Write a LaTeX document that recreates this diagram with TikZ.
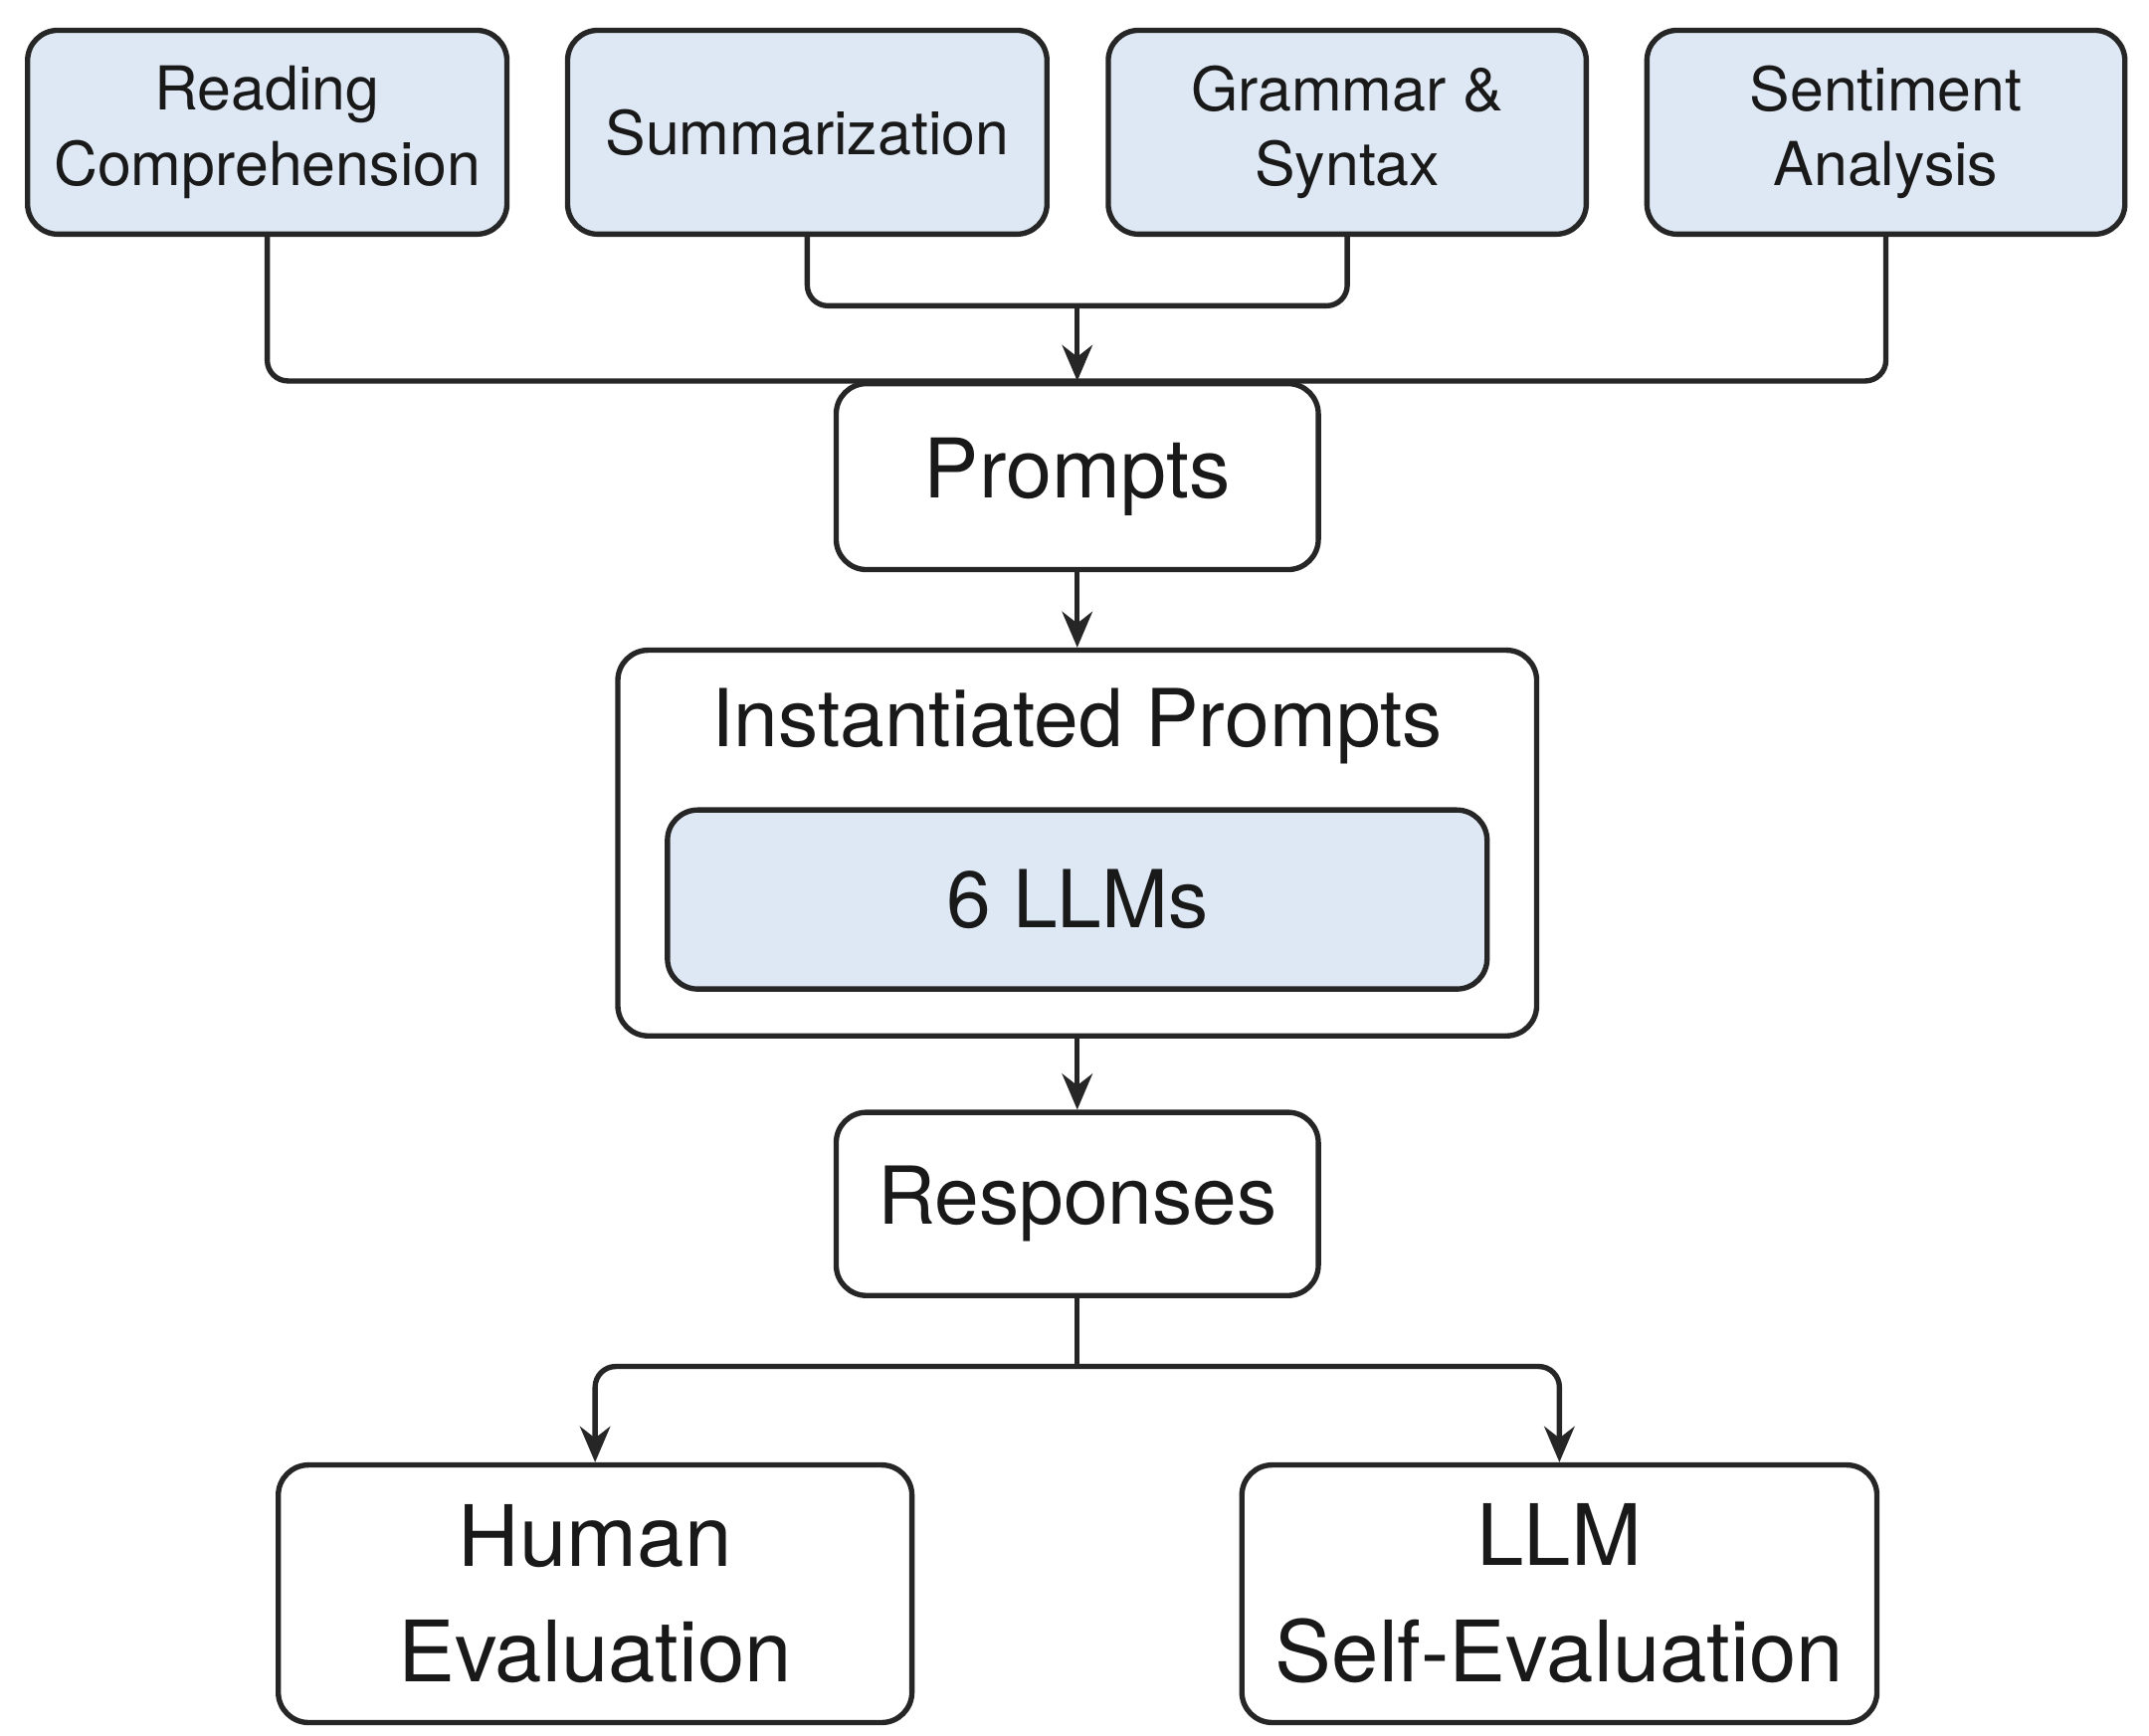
\documentclass[tikz,border=0pt]{standalone}
\usepackage{fontspec}
\setmainfont{TeX Gyre Heros}
\usetikzlibrary{arrows.meta}
\begin{document}
\begin{tikzpicture}[x=0.1mm,y=-0.1mm,
  box/.style={draw=black!85,line width=1.1pt,rounded corners=2.2mm,align=center,inner sep=0pt,text=black!90},
  blue/.style={box,fill=blue!6!cyan!4!white,fill={rgb,255:red,221;green,232;blue,244}},
  ln/.style={draw=black!85,line width=1.1pt,rounded corners=1.5mm},
  arr/.style={ln,-{Stealth[length=2.6mm,width=2.2mm]}}]
\useasboundingbox (0,0) rectangle (1560,1260);
\tikzset{bx/.style args={#1/#2/#3/#4}{minimum width=#3*0.1mm-#1*0.1mm,minimum height=#4*0.1mm-#2*0.1mm}}
\node[blue,bx=20/22/368/170,font=\fontsize{12.5}{15.5}\selectfont] (rc) at (194,96) {Reading\\Comprehension};
\node[blue,bx=412/22/760/170,font=\fontsize{12.5}{15.5}\selectfont] (su) at (586,96) {Summarization};
\node[blue,bx=805/22/1152/170,font=\fontsize{12.5}{15.5}\selectfont] (gr) at (978,96) {Grammar \&\\Syntax};
\node[blue,bx=1196/22/1543/170,font=\fontsize{12.5}{15.5}\selectfont] (se) at (1369,96) {Sentiment\\Analysis};
\node[box,bx=607/278/957/413,font=\fontsize{17}{20}\selectfont] (pr) at (782,346) {Prompts};
\node[box,bx=448/472/1115/752] (ip) at (782,612) {};
\node[font=\fontsize{16.5}{20}\selectfont,text=black!90] (ipt) at (782,527) {Instantiated Prompts};
\node[blue,bx=485/588/1080/718,font=\fontsize{16.5}{20}\selectfont] (ll) at (782,653) {6 LLMs};
\node[box,bx=607/807/957/940,font=\fontsize{16.5}{20}\selectfont] (re) at (782,874) {Responses};
\node[box,bx=202/1063/662/1250,font=\fontsize{17.5}{24}\selectfont] (he) at (432,1157) {Human\\Evaluation};
\node[box,bx=902/1063/1363/1250,font=\fontsize{17.5}{24}\selectfont] (le) at (1132,1157) {LLM\\Self-Evaluation};
\coordinate (j1) at (782,222);
\coordinate (j2) at (782,992);
\draw[ln] (rc.south) |- (pr.north) -| (se.south);
\draw[ln] (su.south) |- (j1) -| (gr.south);
\draw[arr] (j1) -- (pr.north);
\draw[arr] (pr.south) -- (ip.north);
\draw[arr] (ip.south) -- (re.north);
\draw[ln] (re.south) -- (j2);
\draw[arr] (j2) -| (he.north);
\draw[arr] (j2) -| (le.north);
\end{tikzpicture}
\end{document}
